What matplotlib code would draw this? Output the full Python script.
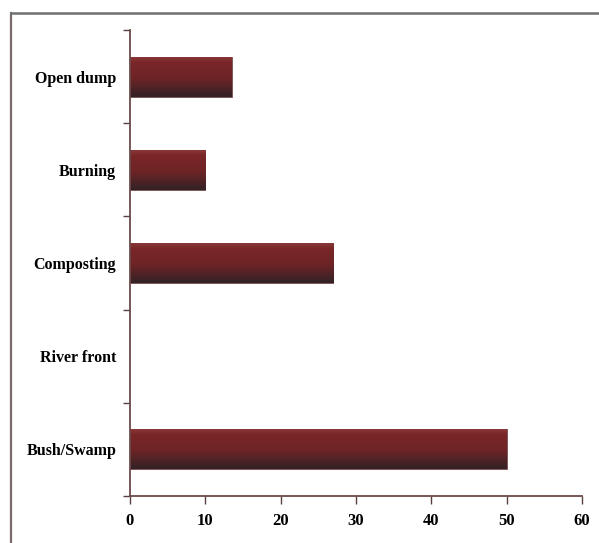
import numpy as np
import matplotlib
matplotlib.use("Agg")
import matplotlib.pyplot as plt
from matplotlib.colors import LinearSegmentedColormap
from matplotlib.lines import Line2D

categories = ["Open dump", "Burning", "Composting", "River front", "Bush/Swamp"]
values = [13.5, 10, 27, 0, 50]
xticks = [0, 10, 20, 30, 40, 50, 60]

fig = plt.figure(figsize=(5.99, 5.43), dpi=100)
ax = fig.add_axes([130/599, 47/543, 452/599, 466/543])

n = len(categories)
ypos = np.arange(n)
bar_h = 0.43
bars = ax.barh(ypos, values, height=bar_h, color="none", edgecolor="none")

cmap = LinearSegmentedColormap.from_list(
    "g", [(0.0, "#8a3a3a"), (0.15, "#7a2628"), (0.55, "#6e2426"), (1.0, "#332225")])
grad = np.linspace(0, 1, 64).reshape(-1, 1)
for b, y, v in zip(bars, ypos, values):
    if v <= 0:
        continue
    im = ax.imshow(grad, cmap=cmap, aspect="auto",
                   extent=[0, v, y + bar_h/2, y - bar_h/2],
                   origin="upper", zorder=2, interpolation="bilinear")
    im.set_clip_path(b)
    b.set_edgecolor("#6a3a3a")
    b.set_linewidth(0.6)

ax.set_xlim(0, 60)
ax.set_ylim(n - 0.5, -0.5)
ax.set_xticks(xticks)
ax.set_xticklabels([str(t) for t in xticks], fontfamily="Liberation Serif",
                   fontweight="bold", fontsize=12)
ax.set_yticks(ypos)
ax.set_yticklabels(categories, fontfamily="Liberation Serif",
                   fontweight="bold", fontsize=11.5)
ax.set_yticks(np.arange(-0.5, n, 1.0), minor=True)
ax.tick_params(axis="y", which="major", length=0, pad=10)
ax.tick_params(axis="y", which="minor", length=5, width=1, color="#5a4040", direction="out")
ax.tick_params(axis="x", which="major", length=6, width=1, color="#5a4040",
               direction="out", pad=6)

spine_col = "#6a4a4a"
for s in ["top", "right"]:
    ax.spines[s].set_visible(False)
for s in ["left", "bottom"]:
    ax.spines[s].set_color(spine_col)
    ax.spines[s].set_linewidth(1.3)

# outer frame of the figure
fx = 11/599
fy = 1 - 13/543
fig.add_artist(Line2D([fx, fx], [0, fy], transform=fig.transFigure,
                      color="#7a6a6a", linewidth=1.6))
fig.add_artist(Line2D([fx, 1], [fy, fy], transform=fig.transFigure,
                      color="#707070", linewidth=1.8))

fig.savefig("out.png", dpi=100)
